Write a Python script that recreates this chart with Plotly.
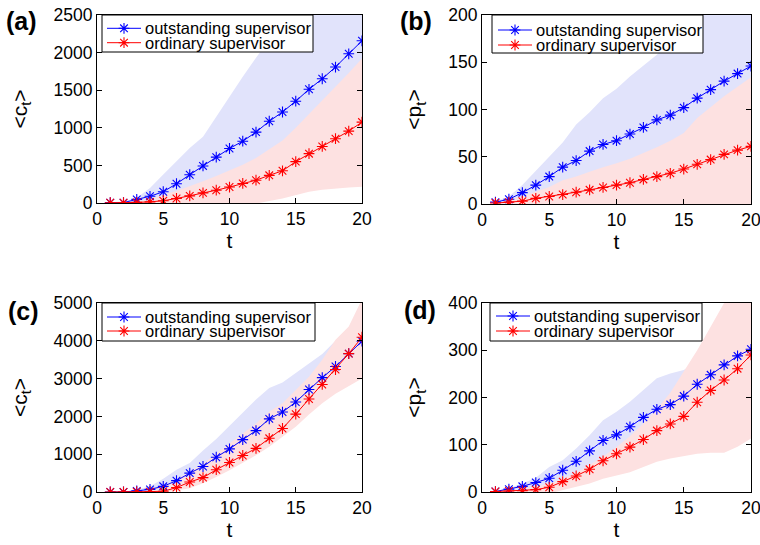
import plotly.graph_objects as go

W, H = 760, 545

t = list(range(1, 21))
series_names = ["outstanding supervisor", "ordinary supervisor"]
panel_labels = ["(a)", "(b)", "(c)", "(d)"]
y_titles = ["&lt;c<sub>t</sub>&gt;", "&lt;p<sub>t</sub>&gt;", "&lt;c<sub>t</sub>&gt;", "&lt;p<sub>t</sub>&gt;"]
x_title = "t"
y_ranges = [[0, 2500], [0, 200], [0, 5000], [0, 400]]
y_dticks = [500, 50, 1000, 100]
x_ticks = [0, 5, 10, 15, 20]

# ---- panel (a): <c_t>
a_blue = [5, 5, 48, 89, 150, 256, 376, 493, 610, 725, 822, 943, 1087, 1210, 1354, 1512, 1652, 1808, 1984, 2157]
a_red = [3, 3, 8, 15, 30, 60, 95, 135, 170, 212, 260, 303, 368, 428, 550, 656, 752, 855, 956, 1076]
a_blue_up = [10, 20, 70, 200, 380, 560, 730, 880, 1150, 1420, 1680, 1930, 2170, 2380, 2560, 2800, 3000, 3200, 3400, 3600]
a_blue_lo = [0, 0, 20, 30, 40, 60, 80, 100, 120, 140, 160, 180, 200, 220, 250, 280, 310, 340, 380, 420]
a_red_up = [5, 8, 20, 45, 110, 160, 220, 290, 360, 430, 510, 600, 710, 830, 1000, 1180, 1360, 1550, 1730, 1920]
a_red_lo = [0, 0, -5, -15, -30, -50, -60, -70, -70, -60, -40, -10, 25, 60, 100, 150, 175, 195, 205, 215]

# ---- panel (b): <p_t>
b_blue = [2, 5, 12, 20, 29, 39, 46, 56, 63, 67, 74, 81, 89, 94, 102, 112, 121, 130, 138, 146]
b_red = [1, 2, 3, 6, 8, 10, 12.5, 15, 17.5, 20, 22.5, 26, 29, 32.5, 37, 42, 47, 52.5, 57, 61]
b_blue_up = [3, 8, 20, 35, 50, 65, 84, 97, 112, 122, 135, 147, 158, 172, 186, 200, 214, 226, 238, 250]
b_blue_lo = [1, 2, 4, 6, 8, 12, 13, 15, 16, 16, 18, 20, 21, 21, 22, 24, 26, 28, 30, 32]
b_red_up = [1, 4, 8, 13, 18, 25, 29, 34, 39, 43, 48, 54, 60, 67, 75, 91, 103, 114, 124, 134]
b_red_lo = [0, 0, 0, -2, -4, -6, -8, -10, -12, -14, -15, -16, -17, -18, -19, -20, -21, -22, -23, -24]

# ---- panel (c): <c_t>
c_blue = [0, 0, 30, 70, 150, 300, 500, 675, 920, 1140, 1385, 1625, 1935, 2115, 2380, 2710, 3025, 3320, 3660, 3990]
c_red = [0, 0, 8, 10, 20, 115, 265, 380, 590, 780, 965, 1155, 1420, 1680, 2060, 2460, 2845, 3240, 3660, 4095]
c_blue_up = [0, 5, 60, 150, 350, 590, 770, 1100, 1400, 1750, 2100, 2450, 2750, 2900, 3150, 3400, 3650, 4000, 4300, 4500]
c_blue_lo = [0, 0, 10, 30, 60, 150, 300, 450, 600, 750, 900, 1100, 1300, 1500, 1800, 2100, 2500, 2850, 3200, 3500]
c_red_up = [0, 2, 20, 40, 130, 330, 530, 750, 1020, 1280, 1550, 1815, 2120, 2345, 2700, 3050, 3500, 4030, 4380, 5100]
c_red_lo = [0, 0, -5, -10, -20, 30, 100, 230, 400, 575, 770, 970, 1195, 1450, 1725, 2050, 2345, 2600, 2800, 3000]

# ---- panel (d): <p_t>
d_blue = [1, 6, 12, 20, 29, 46, 65, 87, 109, 121, 138, 158, 175, 185, 203, 228, 248, 269, 288, 302]
d_red = [1, 2, 3, 5, 10, 22, 34, 48, 66, 81, 95, 111, 130, 144, 160, 190, 215, 237, 261, 290]
d_blue_up = [2, 8, 18, 30, 53, 67, 92, 120, 152, 170, 191, 216, 241, 251, 258, 275, 290, 305, 320, 335]
d_blue_lo = [1, 3, 6, 10, 15, 20, 30, 45, 60, 70, 80, 95, 110, 120, 135, 150, 170, 190, 210, 230]
d_red_up = [1, 3, 6, 11, 18, 28, 40, 57, 75, 95, 118, 145, 175, 210, 255, 300, 350, 400, 440, 480]
d_red_lo = [-1, -2, -3, -4, -3, 4, 11, 18, 28, 35, 42, 53, 64, 71, 76, 81, 83, 83, 96, 113]

panels = [
    (a_blue, a_red, a_blue_up, a_blue_lo, a_red_up, a_red_lo),
    (b_blue, b_red, b_blue_up, b_blue_lo, b_red_up, b_red_lo),
    (c_blue, c_red, c_blue_up, c_blue_lo, c_red_up, c_red_lo),
    (d_blue, d_red, d_blue_up, d_blue_lo, d_red_up, d_red_lo),
]

BLUE, RED = "#0000FF", "#FF0000"
BLUE_BAND, RED_BAND = "#E1E3FB", "#FDE1E1"
FONT = "Liberation Sans, Arial, sans-serif"

# layout geometry in pixels (left, right, top, bottom of each plot area)
boxes = [(97, 362, 15, 203), (482, 751, 15, 204), (97, 362, 303, 492), (482, 751, 303, 492)]
label_pos = [(21, 21), (416, 21), (23, 311), (420, 310)]
legend_boxes = [
    dict(box=(102, 15, 313, 52), rows=(28.3, 42.7), lx=(107, 141), tx=143),
    dict(box=(492, 15, 703, 53), rows=(30, 45), lx=(498, 532), tx=534),
    dict(box=(102, 303, 315, 341), rows=(317, 331), lx=(107, 141), tx=143),
    dict(box=(490, 303, 702, 341), rows=(316, 331), lx=(496, 530), tx=532),
]


def px(x):
    return x / W


def py(y):
    return 1 - y / H


fig = go.Figure()
shapes, annotations = [], []
layout = {}

for i, (mb, mr, bu, bl, ru, rl) in enumerate(panels):
    sfx = "" if i == 0 else str(i + 1)
    xa, ya = "x" + sfx, "y" + sfx
    band_x = t + t[::-1]
    fig.add_trace(go.Scatter(x=band_x, y=bu + bl[::-1], fill="toself", fillcolor=BLUE_BAND,
                             line=dict(width=0), mode="lines", hoverinfo="skip",
                             showlegend=False, xaxis=xa, yaxis=ya))
    fig.add_trace(go.Scatter(x=band_x, y=ru + rl[::-1], fill="toself", fillcolor=RED_BAND,
                             line=dict(width=0), mode="lines", hoverinfo="skip",
                             showlegend=False, xaxis=xa, yaxis=ya))
    for vals, col, name in ((mb, BLUE, series_names[0]), (mr, RED, series_names[1])):
        fig.add_trace(go.Scatter(x=t, y=vals, mode="lines+markers", name=name,
                                 line=dict(color=col, width=1),
                                 marker=dict(symbol="asterisk-open", size=9,
                                             line=dict(color=col, width=1.1)),
                                 showlegend=False, xaxis=xa, yaxis=ya))

    l, r, tp, bt = boxes[i]
    common = dict(showline=True, linecolor="black", linewidth=1, mirror="ticks",
                  ticks="inside", ticklen=5, tickcolor="black", showgrid=False,
                  zeroline=False, ticklabeloverflow="allow",
                  tickfont=dict(family=FONT, size=17.5, color="black"))
    layout["xaxis" + sfx] = dict(domain=[px(l), px(r)], anchor=ya, range=[0, 20],
                                 tickvals=x_ticks,
                                 title=dict(text=x_title, font=dict(family=FONT, size=21, color="black"),
                                            standoff=4),
                                 **common)
    layout["yaxis" + sfx] = dict(domain=[py(bt), py(tp)], anchor=xa, range=y_ranges[i],
                                 dtick=y_dticks[i], tick0=0,
                                 title=dict(text=y_titles[i], font=dict(family=FONT, size=21, color="black"),
                                            standoff=20),
                                 **common)

    lx, ly = label_pos[i]
    annotations.append(dict(text="<b>" + panel_labels[i] + "</b>", x=px(lx), y=py(ly),
                            xref="paper", yref="paper", showarrow=False,
                            xanchor="center", yanchor="middle",
                            font=dict(family=FONT, size=25, color="black")))

    lg = legend_boxes[i]
    x0, y0, x1, y1 = lg["box"]
    shapes.append(dict(type="rect", xref="paper", yref="paper", x0=px(x0), x1=px(x1),
                       y0=py(y1), y1=py(y0), line=dict(color="black", width=1),
                       fillcolor="white", layer="above"))
    for k, (col, name) in enumerate(((BLUE, series_names[0]), (RED, series_names[1]))):
        ry = lg["rows"][k]
        shapes.append(dict(type="line", xref="paper", yref="paper", x0=px(lg["lx"][0]),
                           x1=px(lg["lx"][1]), y0=py(ry), y1=py(ry),
                           line=dict(color=col, width=1), layer="above"))
        cx = (lg["lx"][0] + lg["lx"][1]) / 2
        shapes.append(dict(type="path", xref="paper", yref="paper", xsizemode="pixel",
                           ysizemode="pixel", xanchor=px(cx), yanchor=py(ry),
                           path="M0,5.4V-5.4M5.4,0H-5.4M3.8,3.8L-3.8,-3.8M3.8,-3.8L-3.8,3.8",
                           line=dict(color=col, width=1.1), layer="above"))
        annotations.append(dict(text=name, x=px(lg["tx"]), y=py(ry), xref="paper", yref="paper",
                                showarrow=False, xanchor="left", yanchor="middle",
                                font=dict(family=FONT, size=16.5, color="black")))

fig.update_layout(width=W, height=H, margin=dict(l=0, r=0, t=0, b=0),
                  paper_bgcolor="white", plot_bgcolor="white", template="none",
                  shapes=shapes, annotations=annotations, showlegend=False, **layout)

fig.write_html("out.html")
